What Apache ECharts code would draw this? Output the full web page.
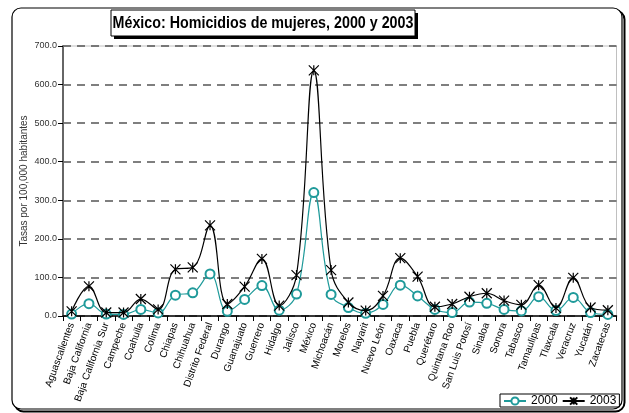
<!DOCTYPE html>
<html><head><meta charset="utf-8">
<script src="https://cdn.jsdelivr.net/npm/echarts@6/dist/echarts.min.js"></script>
<style>html,body{margin:0;padding:0;background:#fff}#c{width:629px;height:413px}</style>
</head><body><div id="c"></div>
<script>
const titleText = "México: Homicidios de mujeres, 2000 y 2003";
const yAxisTitle = "Tasas por 100,000 habitantes";
const states = ["Aguascalientes","Baja California","Baja California Sur","Campeche","Coahuila","Colima","Chiapas","Chihuahua","Distrito Federal","Durango","Guanajuato","Guerrero","Hidalgo","Jalisco","México","Michoacán","Morelos","Nayarit","Nuevo León","Oaxaca","Puebla","Querétaro","Quintana Roo","San Luis Potosí","Sinaloa","Sonora","Tabasco","Tamaulipas","Tlaxcala","Veracruz","Yucatán","Zacatecas"];
const seriesNames = ["2000","2003"];
const values2000 = [5,32,5,4,17,8,54,60,109,12,43,79,15,57,320,56,22,7,30,80,52,17,9,36,33,17,13,50,14,48,9,4];
const values2003 = [12,77,9,9,44,17,121,126,235,31,76,148,27,106,637,119,35,14,52,150,102,24,31,50,59,40,29,80,21,99,22,15];
const yTicks = {min:0, max:700, interval:100};

const teal = '#1f9a9a';
const starPath = 'path://M0,0L10,10M10,0L0,10M5,0L5,10';
const chart = echarts.init(document.getElementById('c'), null, {renderer:'canvas'});
const F = 'Liberation Sans, Arial, sans-serif';
chart.setOption({
  animation:false,
  textStyle:{fontFamily:F},
  graphic:[
    {type:'rect', z:-10, shape:{x:14.5,y:10.5,width:610,height:401,r:9}, style:{fill:'none',stroke:'#000',lineWidth:2}},
    {type:'rect', z:-9, shape:{x:12,y:8,width:610,height:401,r:9}, style:{fill:'#fff',stroke:'#000',lineWidth:1.2}},
    {type:'rect', z:5, shape:{x:114,y:13,width:304,height:26}, style:{fill:'#000'}},
    {type:'rect', z:6, shape:{x:111,y:10,width:304,height:26}, style:{fill:'#fff',stroke:'#000',lineWidth:1}},
    {type:'text', z:7, x:263, y:23.5, scaleX:0.84, style:{text:titleText, fontFamily:F, fontWeight:'bold', fontSize:17, fill:'#000', align:'center', verticalAlign:'middle'}}
  ],
  grid:{left:63, right:12.5, top:46, bottom:97, show:true, borderColor:'#c0c0c0', borderWidth:1, backgroundColor:'transparent'},
  legend:{
    data:seriesNames, left:500, top:394, orient:'horizontal', width:130,
    borderColor:'#000', borderWidth:1, padding:[1,3,0,3], itemGap:4,
    itemWidth:22, itemHeight:9,
    textStyle:{fontSize:12, color:'#000', fontFamily:F}
  },
  xAxis:{
    type:'category', data:states, boundaryGap:true,
    axisLine:{lineStyle:{color:'#000', width:1.5}},
    axisTick:{show:true, interval:0, length:5, lineStyle:{color:'#000'}},
    axisLabel:{interval:0, rotate:70, fontSize:10, color:'#000', margin:7, fontFamily:F},
    splitLine:{show:false}
  },
  yAxis:{
    type:'value', min:yTicks.min, max:yTicks.max, interval:yTicks.interval,
    name:yAxisTitle, nameLocation:'middle', nameRotate:90, nameGap:34, nameMoveOverlap:false,
    nameTextStyle:{fontSize:10, color:'#333', fontFamily:F},
    axisLine:{show:true, lineStyle:{color:'#666', width:2}},
    axisTick:{show:true, length:5, lineStyle:{color:'#000', width:1}},
    axisLabel:{formatter:v=>v.toFixed(1), fontSize:9, color:'#333', margin:6, fontFamily:F},
    splitLine:{show:true, lineStyle:{color:'#555', width:1.5, type:[8,6]}}
  },
  series:[
    {name:seriesNames[0], type:'line', data:values2000, smooth:0.4,
     symbol:'emptyCircle', symbolSize:9,
     lineStyle:{color:teal, width:1.2}, itemStyle:{color:teal, borderColor:teal, borderWidth:1}, z:3},
    {name:seriesNames[1], type:'line', data:values2003, smooth:0.4,
     symbol:starPath, symbolSize:10,
     lineStyle:{color:'#000', width:1.2}, itemStyle:{color:'#000', borderColor:'#000', borderWidth:1.2}, z:4}
  ]
});
</script></body></html>
